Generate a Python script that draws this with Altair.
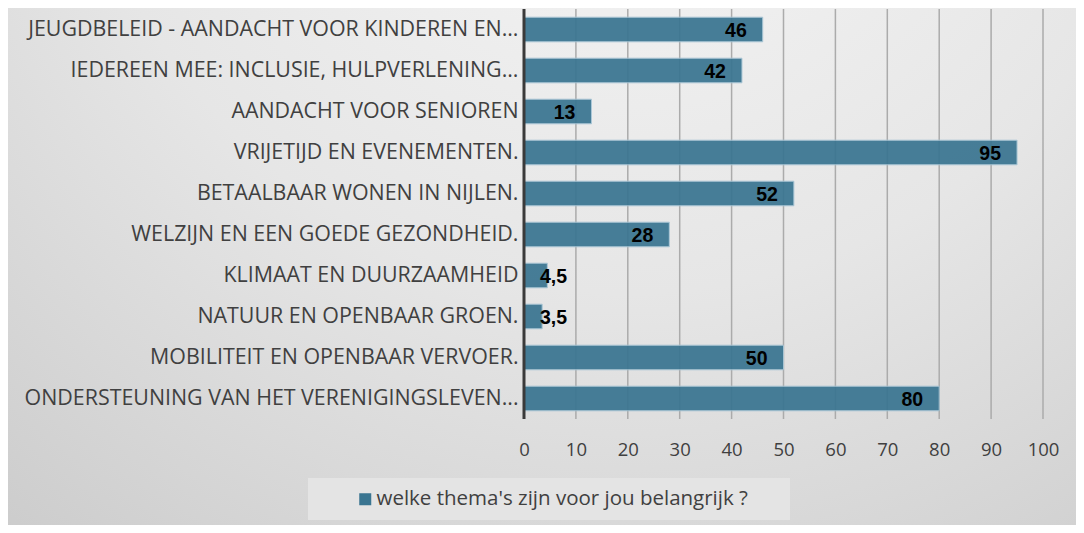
import altair as alt
import pandas as pd

categories = [
    "JEUGDBELEID - AANDACHT VOOR KINDEREN EN...",
    "IEDEREEN MEE: INCLUSIE, HULPVERLENING...",
    "AANDACHT VOOR SENIOREN",
    "VRIJETIJD EN EVENEMENTEN.",
    "BETAALBAAR WONEN IN NIJLEN.",
    "WELZIJN EN EEN GOEDE GEZONDHEID.",
    "KLIMAAT EN DUURZAAMHEID",
    "NATUUR EN OPENBAAR GROEN.",
    "MOBILITEIT EN OPENBAAR VERVOER.",
    "ONDERSTEUNING VAN HET VERENIGINGSLEVEN...",
]
values = [46, 42, 13, 95, 52, 28, 4.5, 3.5, 50, 80]
series_name = "welke thema's zijn voor jou belangrijk ?"
x_ticks = [0, 10, 20, 30, 40, 50, 60, 70, 80, 90, 100]

BAR = "#3a7591"
TXT = "#404040"

df = pd.DataFrame({"cat": categories, "value": values, "series": series_name})
ticks_df = pd.DataFrame({"value": x_ticks[1:]})
one = pd.DataFrame({"a": [0]})

xscale = alt.Scale(domain=[0, 100], nice=False)
yscale = alt.Scale(domain=categories, paddingInner=0.4, paddingOuter=0.2)

x_axis = alt.Axis(values=x_ticks, grid=False, domain=False, ticks=False,
                  labelFlush=False, labelOverlap=False,
                  labelFontSize=18.5, labelColor=TXT, labelFont="Open Sans",
                  labelPadding=21, title=None, zindex=1)
y_axis = alt.Axis(domain=False, ticks=False, labelFontSize=21.4, labelColor=TXT,
                  labelFont="Open Sans", labelPadding=6, labelLimit=600,
                  title=None, zindex=1)

gradient = alt.Gradient(
    gradient="radial",
    stops=[alt.GradientStop(color="#f8f8f8", offset=0),
           alt.GradientStop(color="#e6e6e6", offset=0.5),
           alt.GradientStop(color="#c6c6c6", offset=1)],
    x1=0.58, y1=0.0, r1=0.0, x2=0.58, y2=0.0, r2=1.05,
)

bg = alt.Chart(one).mark_rect(fill=gradient).encode(
    x=alt.value(-516), x2=alt.value(552), y=alt.value(-1), y2=alt.value(516)
)

legend_box = alt.Chart(one).mark_rect(fill="#e4e4e4").encode(
    x=alt.value(-216), x2=alt.value(266), y=alt.value(469), y2=alt.value(511)
)

grid = alt.Chart(ticks_df).mark_rule(color="#ababab", strokeWidth=1.5).encode(
    x=alt.X("value:Q", scale=xscale, axis=x_axis)
)

bars = alt.Chart(df).mark_bar(opacity=0.93, stroke="#a8c6d6", strokeWidth=1).encode(
    x=alt.X("value:Q", scale=xscale, axis=x_axis),
    y=alt.Y("cat:N", scale=yscale, sort=None, axis=y_axis),
    color=alt.Color("series:N", scale=alt.Scale(range=[BAR]),
                    legend=alt.Legend(orient="none", legendX=-169, legendY=480,
                                      title=None, symbolType="square",
                                      symbolSize=144, symbolStrokeWidth=0,
                                      symbolOpacity=1, labelOffset=1,
                                      labelFontSize=20.5, labelColor=TXT,
                                      labelFont="Open Sans", labelLimit=700)),
)

y_line = alt.Chart(one).mark_rule(color="#3a3a3a", strokeWidth=3).encode(
    x=alt.datum(0, scale=xscale)
)

label_base = alt.Chart(df).transform_calculate(
    lab="replace(format(datum.value, '.2~f'), '.', ',')"
)

labels_big = label_base.transform_filter("datum.value >= 10").mark_text(
    align="right", baseline="middle", dx=-16, dy=1, fontSize=19.5,
    fontWeight="bold", font="Liberation Sans", color="#000000"
).encode(
    x=alt.X("value:Q", scale=xscale, axis=x_axis),
    y=alt.Y("cat:N", scale=yscale, sort=None, axis=y_axis),
    text="lab:N",
)

labels_small = label_base.transform_filter("datum.value < 10").mark_text(
    align="left", baseline="middle", dx=16, dy=1, fontSize=19.5,
    fontWeight="bold", font="Liberation Sans", color="#000000"
).encode(
    x=alt.datum(0, scale=xscale),
    y=alt.Y("cat:N", scale=yscale, sort=None, axis=y_axis),
    text="lab:N",
)

chart = alt.layer(bg, legend_box, grid, bars, y_line, labels_big, labels_small).properties(
    width=519, height=410,
    autosize=alt.AutoSizeParams(type="none"),
    padding={"left": 516, "top": 1, "right": 33, "bottom": 106},
    background="#d4d4d4",
).configure_view(stroke=None).configure_axisX(tickOpacity=0, domainOpacity=0)

chart.save("out.html", embed_options={"renderer": "svg", "actions": False})
